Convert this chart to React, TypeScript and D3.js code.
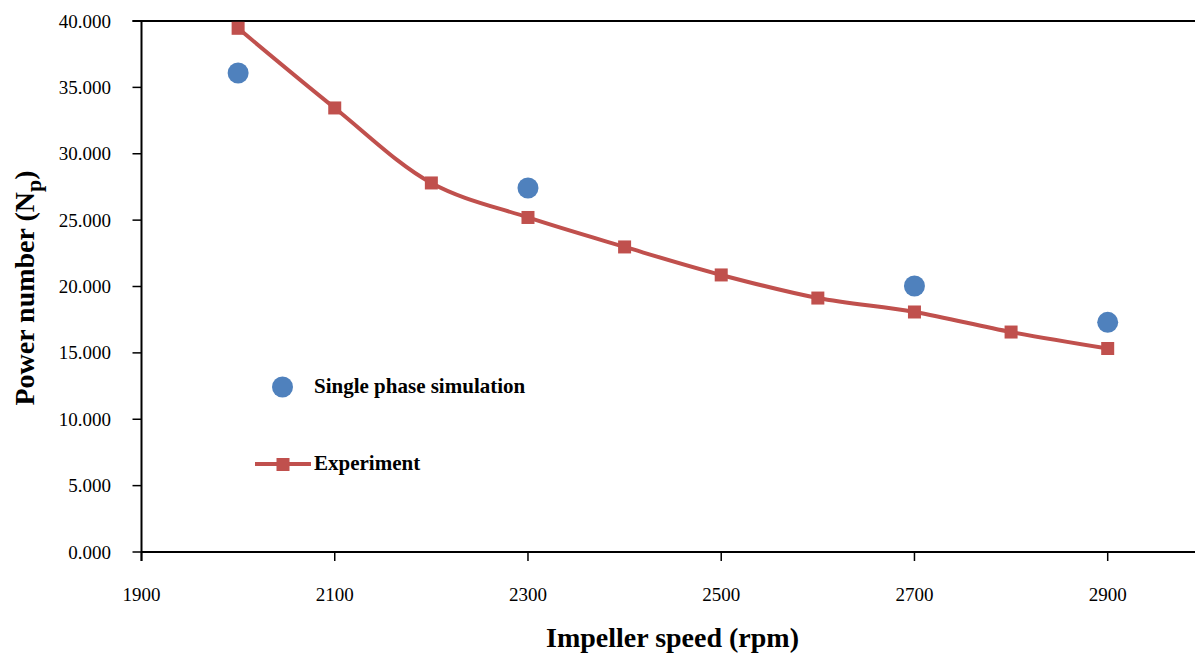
import React from "react";
import * as d3 from "d3";

const speeds = [2000, 2100, 2200, 2300, 2400, 2500, 2600, 2700, 2800, 2900];
const experiment = [39.45, 33.45, 27.8, 25.2, 22.98, 20.87, 19.13, 18.08, 16.57, 15.33];
const simSpeeds = [2000, 2300, 2700, 2900];
const simulation = [36.08, 27.42, 20.04, 17.3];
const xTicks = [1900, 2100, 2300, 2500, 2700, 2900];
const yTicks = [0, 5, 10, 15, 20, 25, 30, 35, 40];

const W = 1195;
const H = 653;
const left = 141.5;
const top = 21;
const bottom = 552;

export default function App() {
  const x = d3.scaleLinear().domain([1900, 3100]).range([left, left + 1200 * 0.9662]);
  const y = d3.scaleLinear().domain([0, 40]).range([bottom, top]);
  const line = d3
    .line<number>()
    .x((_, i) => x(speeds[i]))
    .y((d) => y(d))
    .curve(d3.curveCatmullRom.alpha(0.5));
  const font = '"Liberation Serif", "Times New Roman", Times, serif';
  const red = "#C0504D";
  const blue = "#4F81BD";
  return (
    <svg width={W} height={H} style={{ position: "absolute", left: 0, top: 0, fontFamily: font }}>
      <rect width={W} height={H} fill="#fff" />
      {/* axes */}
      <line x1={left - 9} x2={W} y1={top} y2={top} stroke="#000" strokeWidth={2} />
      <line x1={left} x2={W} y1={bottom} y2={bottom} stroke="#000" strokeWidth={2} />
      <line x1={left} x2={left} y1={top} y2={bottom + 9} stroke="#000" strokeWidth={2} />
      {yTicks.map((t) => (
        <g key={"y" + t}>
          <line x1={left - 9} x2={left} y1={y(t)} y2={y(t)} stroke="#000" strokeWidth={1.5} />
          <text x={111} y={y(t) + 6.5} textAnchor="end" fontSize={19} style={{ fontFamily: font }}>
            {t.toFixed(3)}
          </text>
        </g>
      ))}
      {xTicks.map((t) => (
        <g key={"x" + t}>
          <line x1={x(t)} x2={x(t)} y1={bottom} y2={bottom + 9} stroke="#000" strokeWidth={1.5} />
          <text x={x(t)} y={600.5} textAnchor="middle" fontSize={19} style={{ fontFamily: font }}>
            {t}
          </text>
        </g>
      ))}
      {/* titles */}
      <text x={672.5} y={646.5} textAnchor="middle" fontSize={28} fontWeight="bold" style={{ fontFamily: font }}>
        Impeller speed (rpm)
      </text>
      <text
        transform="translate(34,288) rotate(-90)"
        textAnchor="middle"
        fontSize={28}
        fontWeight="bold"
        style={{ fontFamily: font }}
      >
        Power number (N
        <tspan dy={7} fontSize={22}>p</tspan>
        <tspan dy={-7}>)</tspan>
      </text>
      {/* experiment */}
      <path d={line(experiment) || ""} fill="none" stroke={red} strokeWidth={4} />
      {experiment.map((v, i) => (
        <rect key={"e" + i} x={x(speeds[i]) - 6.5} y={y(v) - 6.5} width={13} height={13} fill={red} />
      ))}
      {/* simulation */}
      {simulation.map((v, i) => (
        <circle key={"s" + i} cx={x(simSpeeds[i])} cy={y(v)} r={10.5} fill={blue} />
      ))}
      {/* legend */}
      <circle cx={282.5} cy={387} r={10.5} fill={blue} />
      <text x={314} y={393} fontSize={21} fontWeight="bold" style={{ fontFamily: font }}>
        Single phase simulation
      </text>
      <line x1={255} x2={311} y1={464} y2={464} stroke={red} strokeWidth={4} />
      <rect x={276.5} y={458} width={13} height={13} fill={red} />
      <text x={314} y={470} fontSize={21} fontWeight="bold" style={{ fontFamily: font }}>
        Experiment
      </text>
    </svg>
  );
}
